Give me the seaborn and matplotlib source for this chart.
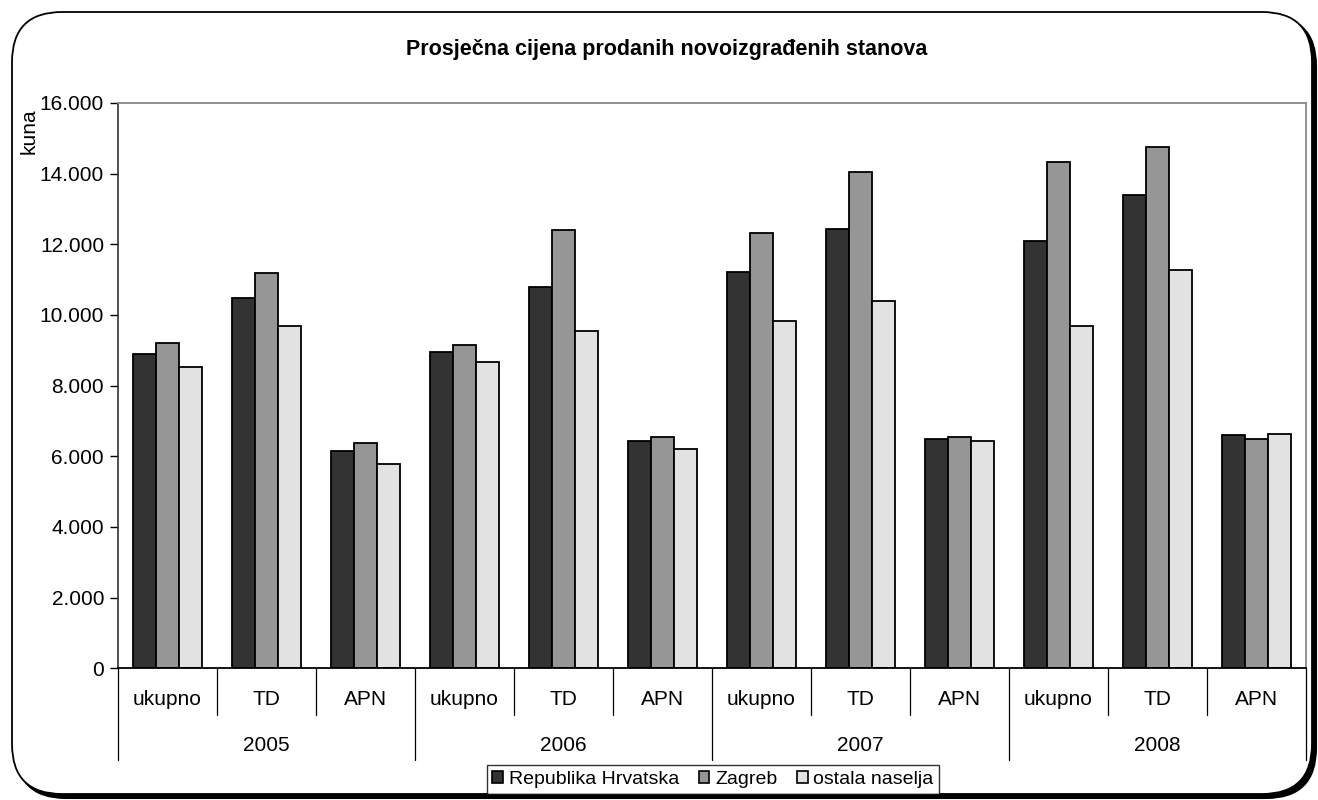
import pandas as pd
import seaborn as sns
import matplotlib.pyplot as plt
import matplotlib.transforms as mtransforms
from matplotlib.patches import FancyBboxPatch
from matplotlib.ticker import FuncFormatter


# Daten
years = ["2005", "2006", "2007", "2008"]
types = ["ukupno", "TD", "APN"]
series = ["Republika Hrvatska", "Zagreb", "ostala naselja"]

rh = [8900, 10470, 6160, 8950, 10790, 6430, 11220, 12420, 6480, 12090, 13390, 6590]
zagreb = [9210, 11180, 6380, 9160, 12410, 6550, 12310, 14060, 6550, 14330, 14750, 6480]
ostala = [8520, 9700, 5780, 8660, 9540, 6210, 9820, 10410, 6420, 9700, 11270, 6640]

colors = ["#333333", "#969696", "#e2e2e2"]

# Long-Format fuer seaborn
cats = [f"{y}-{t}" for y in years for t in types]
rows = []
for name, vals in zip(series, [rh, zagreb, ostala]):
    for c, v in zip(cats, vals):
        rows.append({"kat": c, "serija": name, "kuna": v})
df = pd.DataFrame(rows)

sns.set_style("white")
plt.rcParams['font.family'] = ['Liberation Sans', 'DejaVu Sans']
plt.rcParams.update({"text.color": "black", "axes.labelcolor": "black",
                     "xtick.color": "black", "ytick.color": "black"})

fig = plt.figure(figsize=(13.18, 8), dpi=100)

# abgerundeter Rahmen mit Schatten
shadow = FancyBboxPatch((0.16, 0.02), 13.0, 7.82, boxstyle="round,pad=0,rounding_size=0.5",
                        transform=fig.dpi_scale_trans, facecolor="black", edgecolor="black",
                        lw=1.5, zorder=-2)
frame = FancyBboxPatch((0.12, 0.06), 13.0, 7.82, boxstyle="round,pad=0,rounding_size=0.5",
                       transform=fig.dpi_scale_trans, facecolor="white", edgecolor="black",
                       lw=1.3, zorder=-1)
fig.patches.extend([shadow, frame])

ax = fig.add_axes([118 / 1318, 1 - 668.3 / 800, (1306 - 118) / 1318, (668.3 - 103) / 800])
ax.set_facecolor("none")
ax.set_zorder(1)

sns.barplot(data=df, x="kat", y="kuna", hue="serija", order=cats, hue_order=series,
            palette=colors, width=0.69, edgecolor="black", linewidth=1.3,
            saturation=1, ax=ax, legend=True)

fs = 15
ax.set_xlim(-0.5, len(cats) - 0.5)
ax.set_ylim(0, 16000)
ax.set_yticks(range(0, 16001, 2000))
ax.yaxis.set_major_formatter(FuncFormatter(lambda v, p: f"{v:,.0f}".replace(",", ".")))
ax.tick_params(axis="y", length=6, width=1, direction="out", labelsize=fs, pad=4, left=True)
ax.set_xticks([])
ax.set_xlabel("")
ax.set_ylabel("kuna", fontsize=fs, labelpad=2)
ax.yaxis.set_label_coords(-0.067, 0.95)

for s in ["top", "right"]:
    ax.spines[s].set_color("#888888")
    ax.spines[s].set_linewidth(1.3)
ax.spines["left"].set_color("#333333")
ax.spines["left"].set_linewidth(1.2)
ax.spines["bottom"].set_color("black")
ax.spines["bottom"].set_linewidth(1.3)

# zweistufige Kategorienachse
trans = mtransforms.blended_transform_factory(ax.transData, ax.transAxes)
for i, c in enumerate(cats):
    ax.text(i, -0.055, c.split("-")[1], transform=trans, ha="center", va="center", fontsize=fs)
for k in range(len(cats) + 1):
    big = k % len(types) == 0
    ax.plot([k - 0.5, k - 0.5], [0, -0.163 if big else -0.083], transform=trans,
            color="black", lw=0.9, clip_on=False)
for j, y in enumerate(years):
    xm = j * len(types) + (len(types) - 1) / 2
    ax.text(xm, -0.136, y, transform=trans, ha="center", va="center", fontsize=fs)

ax.get_legend().remove()
handles = [plt.Rectangle((0, 0), 1, 1, facecolor=col, edgecolor="black", lw=1.2) for col in colors]
leg = fig.legend(handles, series, loc="upper center", bbox_to_anchor=(713 / 1318, 1 - 765 / 800),
                 ncol=3, frameon=True, fancybox=False, fontsize=14, handlelength=0.55,
                 handleheight=0.55, handletextpad=0.3, columnspacing=1.0, borderpad=0.3,
                 borderaxespad=0)
leg.get_frame().set_edgecolor("black")
leg.get_frame().set_linewidth(1.0)
leg.set_zorder(2)

fig.text(667 / 1318, 1 - 50 / 800, "Prosječna cijena prodanih novoizgrađenih stanova",
         ha="center", va="center", fontsize=15.5, fontweight="bold")

fig.savefig("out.png", dpi=100)
plt.close(fig)
